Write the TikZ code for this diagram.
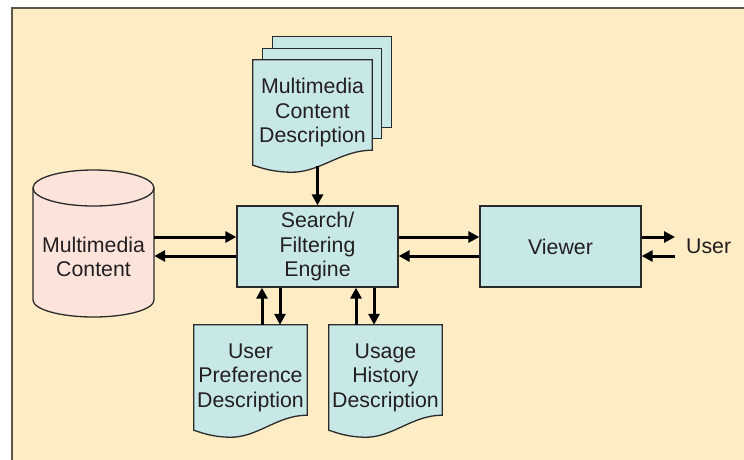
\documentclass[tikz,border=0pt]{standalone}
\usepackage{fontspec}
\setmainfont{Liberation Sans}
\usetikzlibrary{calc,arrows.meta}
\definecolor{bgc}{HTML}{FDECC4}
\definecolor{boxc}{HTML}{C8E8E8}
\definecolor{cylc}{HTML}{FCE4DB}
\definecolor{linec}{HTML}{2A2A2A}
\definecolor{framec}{HTML}{5E554B}
\definecolor{txtc}{HTML}{231F20}
\pgfdeclarelayer{bglayer}
\pgfdeclarelayer{shapelayer}
\pgfsetlayers{bglayer,shapelayer,main}
\newcommand\docshape[1]{%
 \filldraw[docline] (#1.north west) -- (#1.north east) -- ($(#1.south east)+(0,-15)$)
 .. controls ($(#1.south east)!0.27!(#1.south west)+(0,-15)$) and ($(#1.south east)!0.44!(#1.south west)+(0,8)$) .. ($(#1.south east)!0.69!(#1.south west)+(0,7)$)
 .. controls ($(#1.south east)!0.84!(#1.south west)+(0,6.5)$) and ($(#1.south east)!0.92!(#1.south west)+(0,3)$) .. (#1.south west) -- cycle;}
\tikzset{
  docline/.style={fill=boxc, draw=linec, line width=1.3pt, line join=miter},
  lbl/.style={align=center, text=txtc, font=\fontsize{21.3}{24.5}\selectfont, inner sep=0pt},
  docnode/.style={lbl, minimum height=105pt},
  boxnode/.style={lbl, fill=boxc, draw=linec, line width=1.3pt, minimum width=161pt, minimum height=81pt},
  arr/.style={draw=black, line width=3pt, -{Triangle[length=11pt,width=11pt]}},
}
\begin{document}
\begin{tikzpicture}[x=1pt,y=-1pt]
\useasboundingbox (0,0) rectangle (744,459);
\begin{pgfonlayer}{bglayer}
  \fill[bgc] (12,8) rectangle (746,461);
  \draw[framec, line width=2pt] (12,461) -- (12,8) -- (746,8);
\end{pgfonlayer}

% nodes
\node[boxnode] (engine) at (317.5,246.5) {Search/\\Filtering\\Engine};
\node[boxnode] (viewer) at (560.5,246.5) {Viewer};
\node[lbl, anchor=west] (user) at (686,246) {User};
\node[docnode, minimum width=119pt] (mcd) at (312.5,112.5) {Multimedia\\Content\\Description};
\node[docnode, minimum width=113pt] (upd) at (250.5,377.5) {User\\Preference\\Description};
\node[docnode, minimum width=113pt] (uhd) at (385.5,377.5) {Usage\\History\\Description};
\node[lbl, minimum width=121pt, minimum height=100pt] (cyl) at (93.5,257) {Multimedia\\Content};

% shapes behind the text
\begin{pgfonlayer}{shapelayer}
  \filldraw[docline] ($(mcd.north west)+(20,-23)$) rectangle ($(mcd.south east)+(19,-38)$);
  \filldraw[docline] ($(mcd.north west)+(10,-11)$) rectangle ($(mcd.south east)+(9,-27)$);
  \docshape{mcd}
  \docshape{upd}
  \docshape{uhd}
  \filldraw[fill=cylc, draw=linec, line width=1.3pt]
    (33,188) -- (33,300) arc[start angle=180, end angle=360, x radius=60.5pt, y radius=17pt]
    -- (154,188) arc[start angle=0, end angle=180, x radius=60.5pt, y radius=18pt] -- cycle;
  \draw[linec, line width=1.3pt] (33,188) arc[start angle=180, end angle=360, x radius=60.5pt, y radius=18pt];
\end{pgfonlayer}

% connectors
\coordinate (eu) at ($(engine.west)+(0,-9.5)$);
\coordinate (el) at ($(engine.west)+(0,9.5)$);
\coordinate (ue) at ($(user.west)+(-11,0)$);
\draw[arr] (cyl.east |- eu) -- (eu);
\draw[arr] (el) -- (cyl.east |- el);
\draw[arr] (engine.east |- eu) -- (viewer.west |- eu);
\draw[arr] (viewer.west |- el) -- (engine.east |- el);
\draw[arr] (viewer.east |- eu) -- (ue |- eu);
\draw[arr] (ue |- el) -- (viewer.east |- el);
\coordinate (mb) at ($(mcd.south)+(0,1)$);
\draw[arr] (engine.north |- mb) -- (engine.north);
\coordinate (p1) at ($(upd.north)+(11.5,0)$);
\coordinate (p2) at ($(upd.north)+(29.5,0)$);
\coordinate (q1) at ($(uhd.north)+(-29.5,0)$);
\coordinate (q2) at ($(uhd.north)+(-11.5,0)$);
\draw[arr] (p1) -- (p1 |- engine.south);
\draw[arr] (p2 |- engine.south) -- (p2);
\draw[arr] (q1) -- (q1 |- engine.south);
\draw[arr] (q2 |- engine.south) -- (q2);
\end{tikzpicture}
\end{document}
